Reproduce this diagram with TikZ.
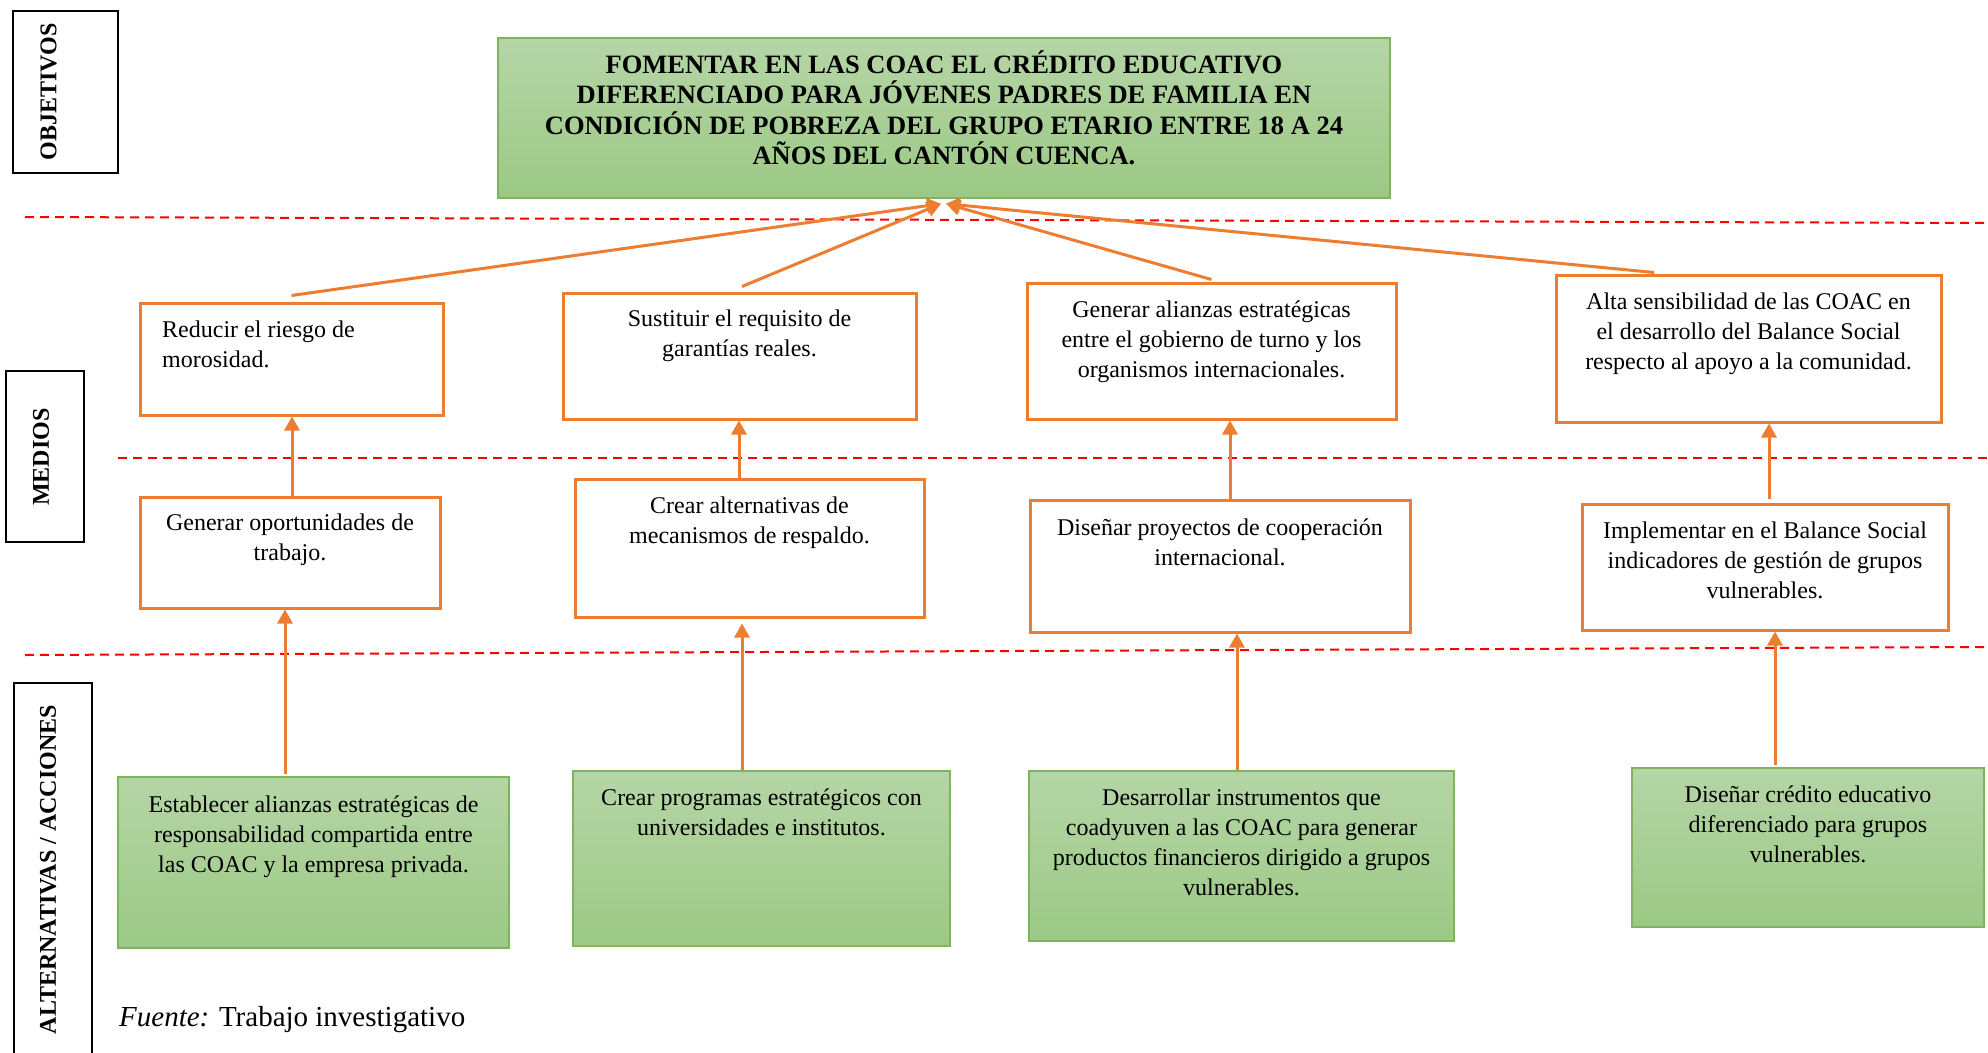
\documentclass[tikz,border=0pt]{standalone}
\usepackage{fontspec}
\setmainfont{Liberation Serif}
\usetikzlibrary{arrows.meta,calc}
\definecolor{orng}{HTML}{ED7D31}
\definecolor{gtop}{HTML}{B5D5A6}
\definecolor{gbot}{HTML}{9CC985}
\definecolor{gbrd}{HTML}{7DB55C}
\definecolor{sepred}{HTML}{FF0000}
\newcommand\mystrut{\rule{0pt}{28pt}}
\begin{document}
\begin{tikzpicture}[x=1pt,y=-1pt,
  obox/.style={draw=orng, line width=3pt, fill=white, inner sep=0pt},
  gbox/.style={draw=gbrd, line width=1.5pt, top color=gtop, bottom color=gbot, inner sep=0pt},
  lbox/.style={draw=black, line width=1.5pt, inner sep=0pt},
  txt/.style={font=\fontsize{24}{30}\selectfont, align=center, inner sep=0pt, anchor=north},
  ttltxt/.style={font=\fontsize{26.5}{30.5}\bfseries\selectfont, align=center, inner sep=0pt, anchor=north},
  ltxt/.style={font=\fontsize{24}{29}\bfseries\selectfont, rotate=90, inner sep=0pt},
  conn/.style={draw=orng, line width=3pt, -{Triangle[length=14pt,width=15pt]}},
  sep/.style={draw=sepred, line width=2pt, dash pattern=on 9pt off 6pt}]
\useasboundingbox (0,0) rectangle (1988,1052);
\fill[white] (0,0) rectangle (1988,1052);

% separators
\draw[sep] (25,217) -- (1988,223);
\draw[sep] (118,458) -- (1988,458);
\draw[sep] (25,655) -- (1988,647);

% side labels
\node[lbox, minimum width=105pt, minimum height=162pt] (l1) at (65.5,92) {};
\node[ltxt] (l1t) at (48.5,92) {OBJETIVOS};
\node[lbox, minimum width=78pt, minimum height=171pt] (l2) at (45,456.5) {};
\node[ltxt] (l2t) at (41,457) {MEDIOS};
\node[lbox, minimum width=78pt, minimum height=377pt] (l3) at (53,871.5) {};
\node[ltxt] (l3t) at (48,869.5) {ALTERNATIVAS / ACCIONES};

% main objective
\node[gbox, minimum width=892pt, minimum height=160pt] (main) at (944,118) {};
\node[ttltxt] (t0) at (944,45) {\mystrut FOMENTAR EN LAS COAC EL CRÉDITO EDUCATIVO\\DIFERENCIADO PARA JÓVENES PADRES DE FAMILIA EN\\CONDICIÓN DE POBREZA DEL GRUPO ETARIO ENTRE 18 A 24\\AÑOS DEL CANTÓN CUENCA.};

% upper medios
\node[obox, minimum width=303pt, minimum height=112pt] (b1) at (291.5,359) {};
\node[txt, align=left, anchor=north west] (t1) at (162,309) {\mystrut Reducir el riesgo de\\morosidad.};
\node[obox, minimum width=353pt, minimum height=126pt] (b2) at (739.5,356) {};
\node[txt] (t2) at (739.5,298) {\mystrut Sustituir el requisito de\\garantías reales.};
\node[obox, minimum width=369pt, minimum height=136pt] (b3) at (1211.5,351) {};
\node[txt] (t3) at (1211.5,289) {\mystrut Generar alianzas estratégicas\\entre el gobierno de turno y los\\organismos internacionales.};
\node[obox, minimum width=385pt, minimum height=147pt] (b4) at (1748.5,348.5) {};
\node[txt] (t4) at (1748.5,281) {\mystrut Alta sensibilidad de las COAC en\\el desarrollo del Balance Social\\respecto al apoyo a la comunidad.};

% lower medios
\node[obox, minimum width=300pt, minimum height=111pt] (b5) at (290,552.5) {};
\node[txt] (t5) at (290,502) {\mystrut Generar oportunidades de\\trabajo.};
\node[obox, minimum width=349pt, minimum height=138pt] (b6) at (749.5,548) {};
\node[txt] (t6) at (749.5,485) {\mystrut Crear alternativas de\\mecanismos de respaldo.};
\node[obox, minimum width=380pt, minimum height=132pt] (b7) at (1220,566) {};
\node[txt] (t7) at (1220,507) {\mystrut Diseñar proyectos de cooperación\\internacional.};
\node[obox, minimum width=366pt, minimum height=126pt] (b8) at (1765,567) {};
\node[txt] (t8) at (1765,510) {\mystrut Implementar en el Balance Social\\indicadores de gestión de grupos\\vulnerables.};

% alternativas
\node[gbox, minimum width=391pt, minimum height=171pt] (b9) at (313.5,862.5) {};
\node[txt] (t9) at (313.5,784) {\mystrut Establecer alianzas estratégicas de\\responsabilidad compartida entre\\las COAC y la empresa privada.};
\node[gbox, minimum width=377pt, minimum height=175pt] (b10) at (761.5,858.5) {};
\node[txt] (t10) at (761.5,777) {\mystrut Crear programas estratégicos con\\universidades e institutos.};
\node[gbox, minimum width=425pt, minimum height=170pt] (b11) at (1241.5,856) {};
\node[txt] (t11) at (1241.5,777) {\mystrut Desarrollar instrumentos que\\coadyuven a las COAC para generar\\productos financieros dirigido a grupos\\vulnerables.};
\node[gbox, minimum width=352pt, minimum height=159pt] (b12) at (1808,847.5) {};
\node[txt] (t12) at (1808,774) {\mystrut Diseñar crédito educativo\\diferenciado para grupos\\vulnerables.};

% source
\node[anchor=base west, inner sep=0pt, font=\fontsize{29}{34}\selectfont] (src) at (119,1026) {\textit{Fuente:} Trabajo investigativo};

% connectors to objective
\coordinate (s4) at ($(b4.north west)!0.257!(b4.north east)$);
\draw[conn] ([yshift=6pt]b1.north) -- ([xshift=-3pt,yshift=-5pt]main.south);
\draw[conn] ([xshift=2.5pt,yshift=5pt]b2.north) -- ([xshift=-3pt,yshift=-5pt]main.south);
\draw[conn] ([yshift=2pt]b3.north) -- ([xshift=2pt,yshift=-5pt]main.south);
\draw[conn] ([yshift=1pt]s4) -- ([xshift=2pt,yshift=-5pt]main.south);

% vertical connectors
\draw[conn] ([xshift=2pt]b5.north) -- ([xshift=0.5pt]b1.south);
\draw[conn] ([xshift=-28.5pt,yshift=2pt]b9.north) -- ([xshift=-5pt]b5.south);
\draw[conn] ([xshift=-10.5pt]b6.north) -- ([xshift=-0.5pt]b2.south);
\draw[conn] ([xshift=-19.5pt]b10.north) -- ([xshift=-7.5pt,yshift=-5pt]b6.south);
\draw[conn] ([xshift=10pt]b7.north) -- ([xshift=18.5pt]b3.south);
\draw[conn] ([xshift=-4.5pt]b11.north) -- ([xshift=17pt]b7.south);
\draw[conn] ([xshift=4pt,yshift=4pt]b8.north) -- ([xshift=20.5pt]b4.south);
\draw[conn] ([xshift=-33pt,yshift=2pt]b12.north) -- ([xshift=10pt]b8.south);
\end{tikzpicture}
\end{document}
